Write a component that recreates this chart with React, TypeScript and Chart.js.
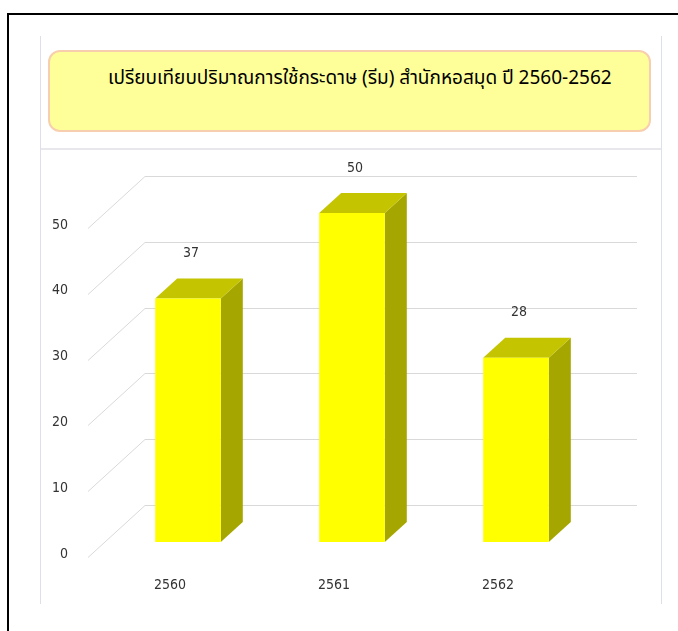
import React, { useEffect, useRef } from "react";
import { Chart, registerables } from "chart.js";

Chart.register(...registerables);

const titleText = "เปรียบเทียบปริมาณการใช้กระดาษ (รีม) สำนักหอสมุด ปี 2560-2562";
const categories = ["2560", "2561", "2562"];
const values = [37, 50, 28];
const yMin = 0;
const yMax = 50;
const yStep = 10;

const BAR_SHIFT = { dx: 18, dy: -15 };
const BAR_DEPTH = { dx: 22, dy: -20 };
const WALL_DEPTH = { dx: 57, dy: -52 };
const TICK_FONT = "'DejaVu Sans Condensed', 'DejaVu Sans', Tahoma, sans-serif";

const threeD = {
  id: "threeD",
  beforeDatasetsDraw(chart: any) {
    const ctx = chart.ctx;
    const area = chart.chartArea;
    const ys = chart.scales.y;
    ctx.save();
    ctx.strokeStyle = "#d9d9d9";
    ctx.lineWidth = 1;
    ys.ticks.forEach((t: any) => {
      const y = Math.round(ys.getPixelForValue(t.value)) + 0.5;
      ctx.beginPath();
      ctx.moveTo(area.left, y);
      ctx.lineTo(area.left + WALL_DEPTH.dx, y + WALL_DEPTH.dy);
      ctx.lineTo(area.right + WALL_DEPTH.dx, y + WALL_DEPTH.dy);
      ctx.stroke();
    });
    ctx.restore();

    const meta = chart.getDatasetMeta(0);
    ctx.save();
    ctx.translate(BAR_SHIFT.dx, BAR_SHIFT.dy);
    meta.data.forEach((bar: any) => {
      const p = bar.getProps(["x", "y", "base", "width"], true);
      const L = p.x - p.width / 2;
      const R = p.x + p.width / 2;
      const top = p.y;
      const bottom = p.base;
      ctx.fillStyle = "#a6a600";
      ctx.beginPath();
      ctx.moveTo(R, top);
      ctx.lineTo(R + BAR_DEPTH.dx, top + BAR_DEPTH.dy);
      ctx.lineTo(R + BAR_DEPTH.dx, bottom + BAR_DEPTH.dy);
      ctx.lineTo(R, bottom);
      ctx.closePath();
      ctx.fill();
      ctx.fillStyle = "#c4c400";
      ctx.beginPath();
      ctx.moveTo(L, top);
      ctx.lineTo(L + BAR_DEPTH.dx, top + BAR_DEPTH.dy);
      ctx.lineTo(R + BAR_DEPTH.dx, top + BAR_DEPTH.dy);
      ctx.lineTo(R, top);
      ctx.closePath();
      ctx.fill();
    });
  },
  afterDatasetsDraw(chart: any) {
    const ctx = chart.ctx;
    ctx.restore();
    const meta = chart.getDatasetMeta(0);
    ctx.save();
    ctx.fillStyle = "#333333";
    ctx.font = "14px " + TICK_FONT;
    ctx.textAlign = "center";
    ctx.textBaseline = "middle";
    meta.data.forEach((bar: any, i: number) => {
      const p = bar.getProps(["x", "y"], true);
      ctx.fillText(String(values[i]), p.x + BAR_SHIFT.dx + 3, p.y + BAR_SHIFT.dy - 45);
    });
    ctx.restore();
  },
};

export default function App() {
  const ref = useRef<HTMLCanvasElement>(null);
  useEffect(() => {
    if (!ref.current) return;
    const chart = new Chart(ref.current, {
      type: "bar",
      data: {
        labels: categories,
        datasets: [
          {
            data: values,
            backgroundColor: "#ffff00",
            borderWidth: 0,
            barPercentage: 0.4,
            categoryPercentage: 1,
          },
        ],
      },
      options: {
        responsive: false,
        animation: false,
        devicePixelRatio: 1,
        layout: { padding: { left: 40, right: 98, top: 228, bottom: 34 } },
        plugins: {
          legend: { display: false },
          title: { display: false },
          tooltip: { enabled: false },
        },
        scales: {
          x: {
            grid: { display: false, drawTicks: false },
            border: { display: false },
            ticks: {
              color: "#333333",
              font: { family: TICK_FONT, size: 14 },
              padding: 20,
              maxRotation: 0,
            },
            afterFit: (s: any) => {
              s.height = 40;
            },
          },
          y: {
            min: yMin,
            max: yMax,
            grid: { display: false, drawTicks: false },
            border: { display: false },
            ticks: {
              stepSize: yStep,
              color: "#333333",
              font: { family: TICK_FONT, size: 14 },
              padding: 20,
              labelOffset: -3,
            },
            afterFit: (s: any) => {
              s.width = 48;
            },
          },
        },
      },
      plugins: [threeD],
    });
    return () => chart.destroy();
  }, []);

  return (
    <div style={{ position: "absolute", left: 0, top: 0, width: 678, height: 631, overflow: "hidden", background: "#fff" }}>
      <div style={{ position: "absolute", left: 7, top: 13, width: 800, height: 800, borderLeft: "2px solid #000", borderTop: "2px solid #000" }} />
      <div style={{ position: "absolute", left: 40, top: 36, width: 1, height: 568, background: "#dedeec" }} />
      <div style={{ position: "absolute", left: 661, top: 36, width: 1, height: 568, background: "#dedeec" }} />
      <div style={{ position: "absolute", left: 41, top: 148, width: 620, height: 2, background: "#e8e8ec" }} />
      <div
        style={{
          position: "absolute",
          left: 48,
          top: 50,
          width: 599,
          height: 78,
          borderRadius: 12,
          border: "2px solid #f8cfae",
          background: "#ffff99",
        }}
      />
      <div
        style={{
          position: "absolute",
          left: 108,
          top: 64,
          whiteSpace: "nowrap",
          fontFamily: "Tahoma, 'Noto Sans Thai', 'Noto Sans', sans-serif",
          fontSize: 19,
          lineHeight: "30px",
          color: "#000",
        }}
      >
        {titleText}
      </div>
      <canvas ref={ref} width={678} height={631} style={{ position: "absolute", left: 0, top: 0 }} />
    </div>
  );
}
